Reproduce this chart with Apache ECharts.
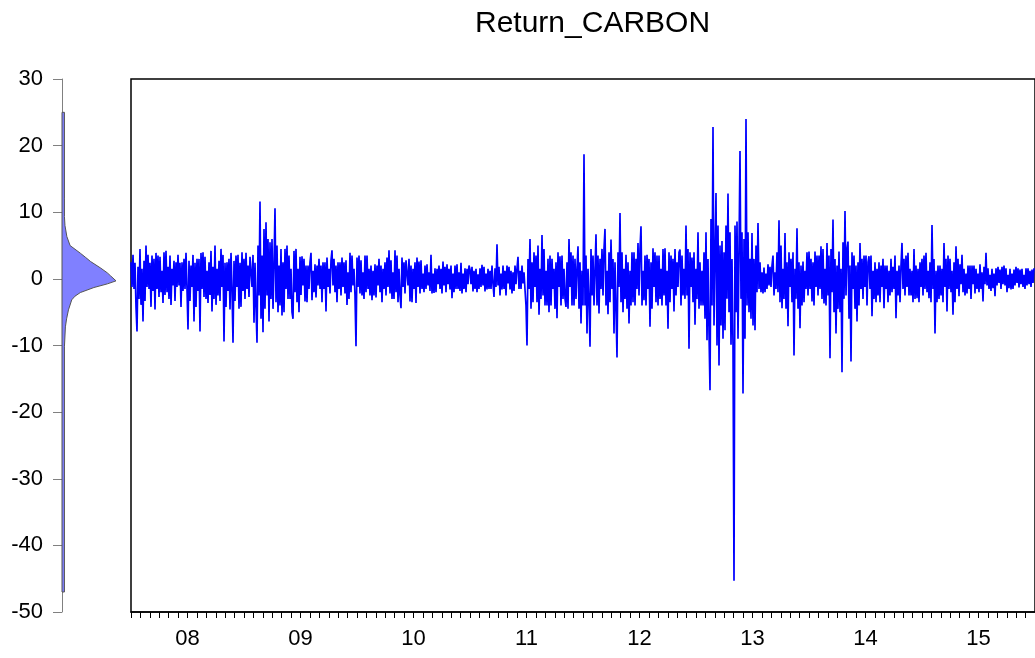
<!DOCTYPE html>
<html>
<head>
<meta charset="utf-8">
<script src="https://cdn.jsdelivr.net/npm/echarts@6.0.0/dist/echarts.min.js"></script>
<style>
html, body { margin: 0; padding: 0; background: #fff; overflow: hidden; }
#main { width: 1035px; height: 658px; }
</style>
</head>
<body>
<div id="main"></div>
<script>
// year labels (one per year, centred between the yearly ticks)
var years = ['08', '09', '10', '11', '12', '13', '14', '15'];

// returns, roughly one value per pixel column
var returnsA = [
    2.5, -1.2, 3.6, -1.5, 2.4, -4.2, -7.9, 1.8, -3, 4.5, -3.9, 1.5, -6.4, 2.7, -3.3, 5, -1.2, 3.6,
    -1.5, 2.4, -4.2, 3.5, -1.8, 3, -4.6, 3.9, -1.5, 3.5, -2.7, 3.3, -2, 1.2, -3.6, 4, -2.4, 4.2,
    -2, 1.8, -3, 3.5, -3.9, 1.5, -1, 2.7, -3.3, 2.5, -1.2, 3.6, -1, 2.4, -4.2, 2.5, -1.8, 3,
    -1.5, 3.9, -1.5, -7.6, 2.7, -3.3, 2, -1.2, 3.6, -6.4, 2.4, -4.2, 3, -1.8, 3, -7.9, 3.9, -1.5,
    4, -2.7, 3.3, -3, 1.2, -3.6, 2.5, -2.4, 4.2, -4.9, 1.8, -3, 5, -3.9, 1.5, -2.5, 2.7, -3.3,
    4.5, -1.2, 3.6, -9.4, 2.4, -4.2, 2.5, -1.8, 3, -4.6, 3.9, -1.5, -9.6, 2.7, -3.3, 3.5, -1.2, 3.6,
    -4.5, 2.4, -4.2, 4, -1.8, 3, -3, 3.9, -1.5, 2, -2.7, 3.3, 3.5, -1.2, 3.6, -6.6, 2.4, -4.2,
    -9.6, 5, -2.5, 11.6, -6, 3.5, -8, 7.5, -4.5, 8.5, -2.5, 6, -6.4, 5.5, -3, 6, -4.5, 2,
    10.6, -3.5, 5, -5, 2, -4, 4.5, -5.5, 2.5, -5, 4.5, -1.5, 5, -3, 3.5, -3, 1.5, -5,
    -6, 4.2, -2, 4.5, -3.5, 1.5, -5, 3.3, -2.4
];
var returnsB = [
    3.4, -1, 3, -3.4, 2, -3.5, 2, -1.5, 2.5, 3.9, -3.2, 1.2, -2, 2.2, -2.8, 2, -1, 3,
    -1.5, 2, -3.5, 2.5, -1.5, 2.5, -4.9, 3.2, -1.2, 1.5, -2.2, 2.8, 4.3, -1, 3, -2, 2, -3.5,
    2.5, -1.5, 2.5, -2.5, 3.2, -1.2, 2.5, -2.2, 2.8, -3.9, 1, -3, 3.9, -2, 3.5, -1, 1.5, -2.5,
    -10.1, 3.2, -1.2, 3.5, -2.2, 2.8, -2.5, 1, -3, 3.5, -2, 3.5, -1.5, 1.5, -2.5, 2, -3.2, 1.2,
    -2.5, 2.2, -2.8, 2, -1, 3, -2, 2, -3.5, 1.5, -1.5, 2.5, -2.5, 3.2, -1.2, 4.3, -2.2, 2.8,
    -3, 1, -3, 4.3, -2, 3.5, -3.5, 1.5, -2.5, -4.4, 3.2, -1.2, 2.5, -2.2, 2.8, 3.1, -1, 3,
    -3.4, 2, -3.5, 1.5, -1.5, 2.5, -3.6, 3.2, -1.2, 2.6, -2.2, 2.8, -1.5, 0.8, -2, 2, -1.5, 2.2,
    -1, 1, -1.8, 3.6, -2.2, 0.8, -2.1, 1.6, -2, 1.5, -0.8, 2, -1.5, 1.5, -2.2, 2.6, -1, 1.8,
    -2, 2.2, -0.8, 1.5, -1.6, 2, -2.9, 0.8, -2, 2, -1.5, 2.2, -1.5, 1, -1.8, 2.4, -2.2, 0.8,
    -1.5, 1.6, -2, 1.5, -0.8, 2
];
var returnsC = [
    1.4, -0.8, 1.8, -1.9, 1.2, -1.5, 1.5, -2, 0.7, -1.5, 1.6, -1.2, 2.1, -1, 1.8, -1.9, 0.8, -1.6,
    1.5, -1.5, 1.2, -1.5, 2, -0.7, -2.7, 1.6, -1.2, 5.2, -1, 1.8, -2.5, 0.8, -1.6, 2, -1.5, 1.2,
    -2.5, 2, -0.7, 1.8, -1.6, 1.2, -2.2, 1, -1.8, 2, -0.8, 1.6, 3.3, -1.5, 1.2, -1.5, 2, -0.7,
    1, -1.6, -4, -10, 3, -1.5, 6, -4.5, 2.5, -3.5, 4, -1.2, 3.5, -3.5, 5, -5.4, 1.5, -3,
    6.6, -2.5, 4.5, -4, 1.2, -4, 3, -5, 3.5, -4, 3, -1.5, 1.5, -4.5, 2.5, -5.9, 4, -1.2,
    3.4, -4, 3.5, -3, 1.5, -3, -4.2, 2.5, -4.5, 6, -1.2, 4, -4, 3.5, -4, 3, -3, 1.5,
    4.9, -4.5, 2.5, -6.7, 1.2, -4, 18.7, -4, 3.5, -8.2, 1.5, -3, -10.2, 4.5, -2.5, 3.5, -4, 1.2,
    6.7, -4, 3.5, -5.2, 3, -1.5, 4.5, -2.5, 4.5, 7.5, -4, 1.2, -5.3, 4, -3.5, 5.9, -1.5, 3,
    -8.2, 2.5, -4.5, -11.8, 4, -1.2, 9.9, -3.5, 4, -5, 1.5, -3, 3.6, -4.5, 2.5, -6.7, 1.2, -4,
    4, -3.5, 4, -4, 3, -1.5, 5.4, -2.5, 4.5
];
var returnsD = [
    7.9, -4, 1.2, -3.2, 3.5, -4, 3.6, -1.5, 3, -7.2, 2.5, -4.5, 4.6, -1.2, 4, -3.5, 3.5, -4,
    3.5, -3, 1.5, -4, 4.5, -2.5, 4.6, -4, 1.2, -7.5, 4, -3.5, 3.5, -1.5, 3, -4.9, 4.5, -2.5,
    2.5, -1.2, 4, 4.4, -4, 3.5, -2.5, 1.5, -3, 8, -2.5, 4.5, -10.5, 4, -1.2, 3.2, -3.5, 4,
    -6.9, 1.5, -3, 7, -4.5, 2.5, -4, 1.2, -4, 4, -6, 7, -9.2, 3, -8, -16.7, 9, -4,
    22.8, -7, 3, 12.9, -10, 8, -13, 5, -7, 5.7, -9, 4, -7.7, 8, -3, 12.8, -5, 7,
    -9.9, 3, -10, -45.3, 8, -5, 8.6, -9, 4, 19.2, -3, 7, -17.2, 6, -9, 24, -4, 7,
    -5, 3, -6, 6.9, -7, 3, -7.7, 5, -2, 8.4, -1.5, 2.5, -2, 1, -2.2, 1.7, -2, 0.8,
    -1.5, 2.2, -1, 1.8, -1.2, 2, 3.5, -2.5, 1, -1.5, 4, -2, 8.8, -3.5, 5, -4.4, 1.5, -3,
    6.9, -4.5, 2.5, -7.1, 4, -1.2, 3, -3.5, 4, -11.5, 1.5, -3, 7.6, -4.5, 2.5
];
var returnsE = [
    -7.4, 2, -4, 2.6, -3.5, 1.2, -1.5, 4, -2.5, 4.1, -1.5, 3, -3.4, 2.5, -4, 4.1, -1.2, 3.5,
    -2.5, 3.5, -1.5, 4.9, -3, 4.5, -3.7, 1.5, -4, 5.4, -2.5, 3.5, -11.9, 4.5, -2, 8.9, -5, 3,
    -8.2, 2, -4.5, 4.1, -5, 1.5, -14, 5.5, -3, 10.2, -2.5, 4.5, 5.6, -6, 2, -12.4, 4, -1.5,
    3.5, -4.5, 2, -6.4, 2.5, -4, 5.4, -1.5, 3, -3, 3.5, -1.2, 3.5, -4, 2.5, 3.4, -1.5, 3.5,
    -5.6, 1.2, -3, 2.5, -3.5, 1.5, -2.5, 2.5, -3.5, 2, -1.2, 3, -4.4, 2, -1.5, 2, -3.5, 1.2,
    -2.5, 3, -2, 1.8, -1.5, 3.5, -5.9, 1.2, -2.5, 2, -3.5, 2, 5.4, -1.5, 3, -2.5, 3.5, -1.2,
    3.9, -2.5, 1.5, -2.5, 1.2, -3.5, 4.5, -3, 2, -2.9, 1.5, -3.5, 2.5, -1.2, 3, -2.5, 3.5, -1.5,
    3.9, -2, 1.2, -2.9, 2.5, -3.5, 8.1, -1.5, 3, -8.2, 1.2, -3.5, 2, -3, 2, -2.5, 1.5, -3.5,
    5.4, -1.2, 3, -4.9, 3.5, -1.5, 3, -2, 1.2, -5.4, 2.5, -3.5, 4.9, -1.5, 3, -2.6, 2.2, -0.8,
    3.6, -2, 1.5, -2.5, 0.8, -2.2, 2, -1.5, 2, -3, 2, -0.8, 2, -2.2, 1.5, -1.5, 0.8, -2,
    2.2, -1.5, 1, -3.4, 1.8, -0.8, 3.9, -1, 1.6, -1.5, 0.6, -1.8, 1.5, -1.4, 0.8, -2.6, 1.6, -1,
    1.8, -0.6, 1.4, -1.5, 1.8, -0.8, 2, -1, 1.6, -2, 0.6, -1.4, 1.5, -1.6, 0.8, -1.5, 1.4, -1,
    1.8, -0.6, 1.6, -1.3, 1.4, -0.8, 1.5, -1.2, 0.6, -1.5, 1.6, -1, 1.6, -0.8, 1.2, -1.2, 1.4, -0.6,
    1.6
];
var returns = returnsA.concat(returnsB, returnsC, returnsD, returnsE);

// kernel density shown on the left axis (value, relative density)
var densityValue = [25, 12, 9.35, 8, 6.35, 5, 3.85, 3.2, 2.6, 1.6, 0.9, 0.45, -0.3, -0.75, -1.3, -2.05, -2.6, -3.15, -4.65, -6, -7.2, -10.2, -47];
var densityHeight = [0.045, 0.045, 0.045, 0.055, 0.09, 0.15, 0.34, 0.44, 0.53, 0.72, 0.84, 0.9, 1.0, 0.84, 0.59, 0.34, 0.24, 0.18, 0.12, 0.085, 0.063, 0.045, 0.045];

var dom = document.getElementById('main');
var myChart = echarts.init(dom);
var font = 'Liberation Sans, Arial, Helvetica, sans-serif';

var idx = [];
for (var i = 0; i < returns.length; i++) idx.push(i);
var densityData = [];
for (var j = 0; j < densityValue.length; j++) densityData.push([densityHeight[j], densityValue[j]]);

var option = {
    backgroundColor: '#fff',
    animation: false,
    title: {
        text: 'Return_CARBON',
        left: 470,
        top: 4,
        textStyle: { fontFamily: font, fontSize: 30, fontWeight: 'normal', color: '#000' }
    },
    grid: [
        // frame + time axis
        { left: 131, top: 79, width: 913, height: 533, show: true, borderColor: '#000', borderWidth: 1.5, backgroundColor: '#fff' },
        // data area
        { left: 131, top: 79, width: 903, height: 533 },
        // density strip
        { left: 62, top: 79, width: 54, height: 533 }
    ],
    xAxis: [
        {
            gridIndex: 0,
            type: 'category',
            data: years,
            boundaryGap: true,
            position: 'bottom',
            axisLine: { onZero: false, lineStyle: { color: '#000', width: 1.5 } },
            axisTick: { length: 13, lineStyle: { color: '#000', width: 1 } },
            axisLabel: { margin: 16, fontFamily: font, fontSize: 22, color: '#000' },
            splitLine: { show: false }
        },
        {
            // monthly minor ticks
            gridIndex: 0,
            type: 'value',
            min: 0,
            max: 96,
            interval: 1,
            position: 'bottom',
            axisLine: { show: false, onZero: false },
            axisTick: { length: 6, lineStyle: { color: '#000', width: 1 } },
            axisLabel: { show: false },
            splitLine: { show: false }
        },
        {
            gridIndex: 1,
            type: 'category',
            data: idx,
            boundaryGap: false,
            axisLine: { onZero: false },
            show: false
        },
        {
            gridIndex: 2,
            type: 'value',
            min: 0,
            max: 1,
            axisLine: { onZero: false },
            show: false
        }
    ],
    yAxis: [
        { gridIndex: 0, type: 'value', min: -50, max: 30, show: false, axisLine: { onZero: false } },
        { gridIndex: 1, type: 'value', min: -50, max: 30, show: false, axisLine: { onZero: false } },
        {
            gridIndex: 2,
            type: 'value',
            min: -50,
            max: 30,
            interval: 10,
            position: 'left',
            axisLine: { show: true, onZero: false, lineStyle: { color: '#808080', width: 1 } },
            axisTick: { show: true, length: 9, lineStyle: { color: '#808080' } },
            axisLabel: { margin: 19, fontFamily: font, fontSize: 22, color: '#000' },
            splitLine: { show: false }
        }
    ],
    series: [
        {
            name: 'Return_CARBON',
            type: 'line',
            xAxisIndex: 2,
            yAxisIndex: 1,
            data: returns,
            showSymbol: false,
            symbol: 'none',
            sampling: null,
            lineStyle: { color: '#0000ff', width: 1.7 },
            z: 3
        },
        {
            name: 'density',
            type: 'custom',
            xAxisIndex: 3,
            yAxisIndex: 2,
            data: densityData,
            encode: { x: 0, y: 1 },
            renderItem: function (params, api) {
                if (params.dataIndex !== 0) return;
                var pts = [api.coord([0, densityValue[0]])];
                for (var k = 0; k < densityValue.length; k++) {
                    pts.push(api.coord([densityHeight[k], densityValue[k]]));
                }
                pts.push(api.coord([0, densityValue[densityValue.length - 1]]));
                return {
                    type: 'polygon',
                    shape: { points: pts },
                    style: { fill: '#8080ff', stroke: '#555555', lineWidth: 1 }
                };
            }
        }
    ]
};

if (option && typeof option === "object") {
    myChart.setOption(option, true);
}
</script>
</body>
</html>
